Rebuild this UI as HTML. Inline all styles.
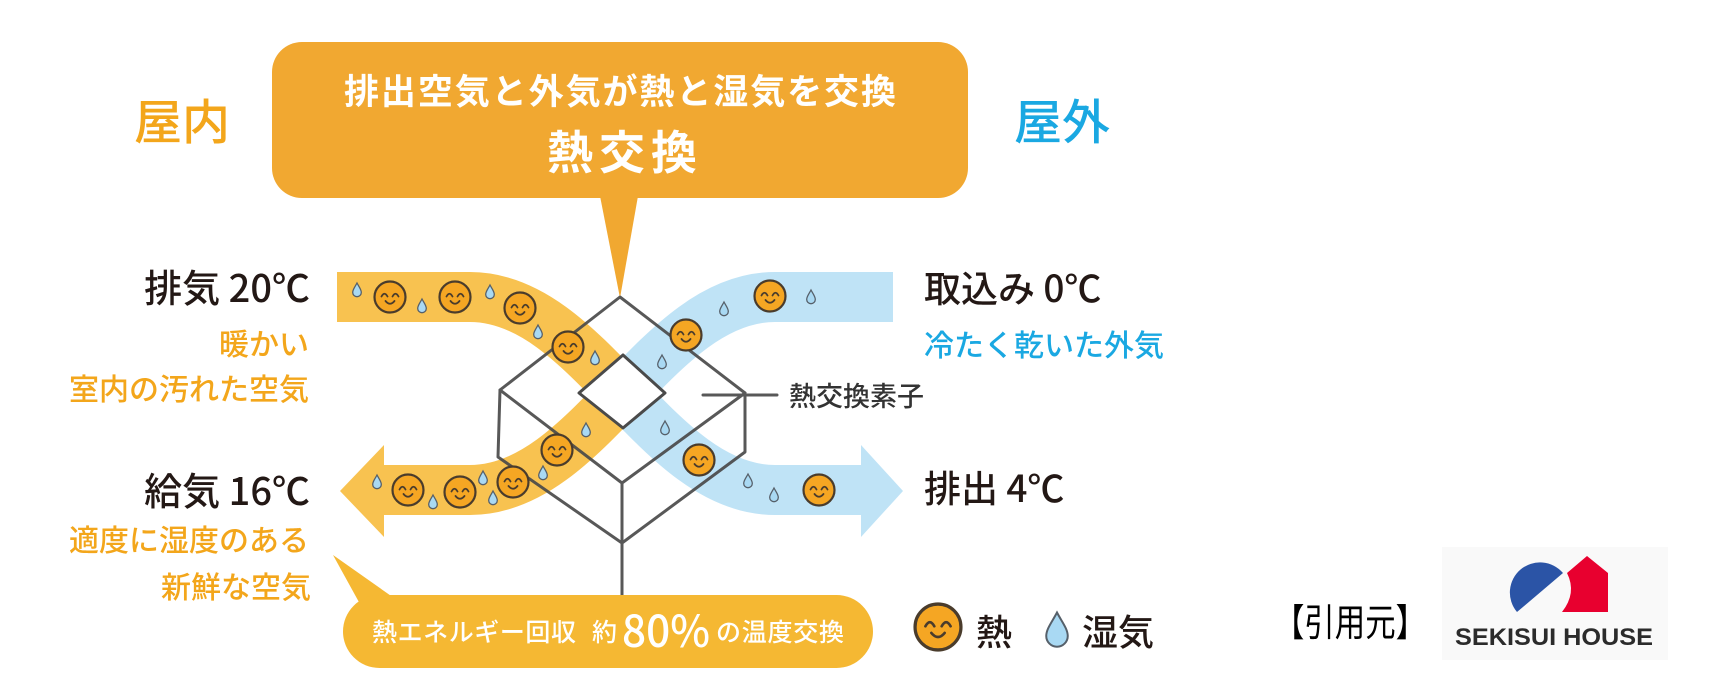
<!DOCTYPE html>
<html lang="ja">
<head>
<meta charset="utf-8">
<style>
  html, body { margin: 0; padding: 0; background: #ffffff; }
  body { width: 1724px; height: 700px; overflow: hidden; }
  svg { display: block; }
  text { font-family: "Liberation Sans", "Noto Sans CJK JP", sans-serif; }
  text.jp { font-family: "Noto Sans CJK JP", "Liberation Sans", sans-serif; }
</style>
</head>
<body>
<svg width="1724" height="700" viewBox="0 0 1724 700" xmlns="http://www.w3.org/2000/svg">
  <defs>
    <clipPath id="cl"><rect x="0" y="0" width="622.5" height="700"/></clipPath>
    <clipPath id="cr"><rect x="622.5" y="0" width="1102" height="700"/></clipPath>
    <g id="face">
      <circle cx="0" cy="0" r="15.5" fill="#F5A623" stroke="#4a3c2c" stroke-width="2.2"/>
      <path d="M-8.5,-0.5 Q-5.5,-6 -2.5,-0.5" fill="none" stroke="#4a3c2c" stroke-width="1.8" stroke-linecap="round"/>
      <path d="M2.5,-0.5 Q5.5,-6 8.5,-0.5" fill="none" stroke="#4a3c2c" stroke-width="1.8" stroke-linecap="round"/>
      <path d="M-4.5,4 Q0,9.5 4.5,4" fill="none" stroke="#4a3c2c" stroke-width="1.8" stroke-linecap="round"/>
    </g>
    <g id="drop">
      <path d="M0,-7 C1.8,-3.5 4.3,-0.5 4.3,2.4 A4.3,4.3 0 0 1 -4.3,2.4 C-4.3,-0.5 -1.8,-3.5 0,-7 Z" fill="#A9D9F3" stroke="#56606a" stroke-width="1.3"/>
    </g>
  </defs>

  <!-- Top speech bubble -->
  <rect x="272" y="42" width="696" height="156" rx="30" ry="30" fill="#F1A831"/>
  <polygon points="600,196 638,196 620,298" fill="#F1A831"/>
  <text class="jp" x="344" y="104" font-size="35" font-weight="600" fill="#ffffff" textLength="552" lengthAdjust="spacing">排出空気と外気が熱と湿気を交換</text>
  <text class="jp" x="547" y="169" font-size="46" font-weight="600" fill="#ffffff" textLength="150" lengthAdjust="spacing">熱交換</text>

  <!-- 屋内 / 屋外 -->
  <text class="jp" x="134" y="139" font-size="48" font-weight="500" fill="#F3A61B">屋内</text>
  <text class="jp" x="1014" y="139" font-size="48" font-weight="500" fill="#1AA8E2">屋外</text>

  <!-- Bands: orange part (left) -->
  <g clip-path="url(#cl)" fill="none" stroke="#F8C250" stroke-width="50">
    <path d="M337,297 L470,297 C590,297 655,490 775,490 L864,490"/>
    <path d="M893,297 L775,297 C655,297 590,490 470,490 L381,490"/>
  </g>
  <polygon points="384,445 340,491 384,537" fill="#F8C250"/>
  <!-- Bands: blue part (right) -->
  <g clip-path="url(#cr)" fill="none" stroke="#BFE3F6" stroke-width="50">
    <path d="M337,297 L470,297 C590,297 655,490 775,490 L864,490"/>
    <path d="M893,297 L775,297 C655,297 590,490 470,490 L381,490"/>
  </g>
  <polygon points="861,445 903,491 861,537" fill="#BFE3F6"/>

  <!-- Heat exchanger cube -->
  <g fill="none" stroke="#4a4a4a" stroke-width="3" stroke-linejoin="round" stroke-linecap="round" opacity="0.92">
    <polygon points="620,297 745,393 622,483 500,390"/>
    <polyline points="500,390 498,457 622,543 745,452 745,393"/>
    <line x1="622" y1="483" x2="622" y2="596"/>
    <line x1="703" y1="395" x2="777" y2="395"/>
  </g>
  <polygon points="623,355 665,393 623,428 579,393" fill="#ffffff" stroke="#4a4a4a" stroke-width="3" stroke-linejoin="round"/>

  <!-- faces & drops: upper orange -->
  <use href="#drop" x="357" y="290"/>
  <use href="#face" x="390" y="297"/>
  <use href="#drop" x="422" y="306"/>
  <use href="#face" x="455" y="297"/>
  <use href="#drop" x="490" y="292"/>
  <use href="#face" x="520" y="308"/>
  <use href="#drop" x="538" y="332"/>
  <use href="#face" x="568" y="347"/>
  <use href="#drop" x="595" y="358"/>
  <!-- lower orange -->
  <use href="#drop" x="377" y="482"/>
  <use href="#face" x="408" y="490"/>
  <use href="#drop" x="433" y="502"/>
  <use href="#face" x="460" y="492"/>
  <use href="#drop" x="483" y="478"/>
  <use href="#drop" x="493" y="498"/>
  <use href="#face" x="513" y="482"/>
  <use href="#drop" x="543" y="473"/>
  <use href="#face" x="557" y="450"/>
  <use href="#drop" x="586" y="430"/>
  <!-- upper blue -->
  <use href="#drop" x="811" y="297"/>
  <use href="#face" x="770" y="296"/>
  <use href="#drop" x="724" y="309"/>
  <use href="#face" x="686" y="335"/>
  <use href="#drop" x="662" y="362"/>
  <!-- lower blue -->
  <use href="#drop" x="665" y="428"/>
  <use href="#face" x="699" y="460"/>
  <use href="#drop" x="748" y="481"/>
  <use href="#drop" x="774" y="495"/>
  <use href="#face" x="819" y="490"/>

  <!-- Left labels -->
  <text class="jp" x="310" y="302" font-size="38" font-weight="500" fill="#231815" text-anchor="end">排気 20℃</text>
  <text class="jp" x="309" y="355" font-size="30" font-weight="500" fill="#F3A61B" text-anchor="end">暖かい</text>
  <text class="jp" x="309" y="400" font-size="30" font-weight="500" fill="#F3A61B" text-anchor="end">室内の汚れた空気</text>
  <text class="jp" x="310" y="505" font-size="38" font-weight="500" fill="#231815" text-anchor="end">給気 16℃</text>
  <text class="jp" x="309" y="551" font-size="30" font-weight="500" fill="#F3A61B" text-anchor="end">適度に湿度のある</text>
  <text class="jp" x="311" y="598" font-size="30" font-weight="500" fill="#F3A61B" text-anchor="end">新鮮な空気</text>

  <!-- Right labels -->
  <text class="jp" x="924" y="302" font-size="37" font-weight="500" fill="#231815">取込み 0℃</text>
  <text class="jp" x="924" y="356" font-size="30" font-weight="500" fill="#1AA8E2">冷たく乾いた外気</text>
  <text class="jp" x="789" y="406" font-size="27" font-weight="500" fill="#333333">熱交換素子</text>
  <text class="jp" x="924" y="502" font-size="37" font-weight="500" fill="#231815">排出 4℃</text>

  <!-- Bottom bubble -->
  <polygon points="333,555 394,598 360,604" fill="#F5B833"/>
  <rect x="343" y="595" width="530" height="73" rx="36.5" ry="36.5" fill="#F5B833"/>
  <text class="jp" x="372" y="641" font-size="25" font-weight="500" fill="#ffffff" textLength="204" lengthAdjust="spacing">熱エネルギー回収</text>
  <text class="jp" x="592" y="641" font-size="25" font-weight="500" fill="#ffffff">約</text>
  <text class="jp" x="622" y="647" font-size="44" font-weight="500" fill="#ffffff" textLength="88" lengthAdjust="spacingAndGlyphs">80%</text>
  <text class="jp" x="716" y="641" font-size="25" font-weight="500" fill="#ffffff" textLength="128" lengthAdjust="spacing">の温度交換</text>

  <!-- Legend -->
  <g transform="translate(938,627) scale(1.48)"><use href="#face"/></g>
  <text class="jp" x="976" y="645" font-size="36" font-weight="500" fill="#231815">熱</text>
  <g transform="translate(1057,630) scale(2.5)">
    <path d="M0,-7 C1.8,-3.5 4.3,-0.5 4.3,2.4 A4.3,4.3 0 0 1 -4.3,2.4 C-4.3,-0.5 -1.8,-3.5 0,-7 Z" fill="#A9D9F3" stroke="#56606a" stroke-width="0.8"/>
  </g>
  <text class="jp" x="1082" y="645" font-size="36" font-weight="500" fill="#231815">湿気</text>

  <!-- Citation -->
  <text class="jp" x="1274" y="636" font-size="38" fill="#000000" textLength="152" lengthAdjust="spacingAndGlyphs">【引用元】</text>

  <!-- Sekisui House logo -->
  <rect x="1442" y="547" width="226" height="113" fill="#F9F9F9"/>
  <path d="M1517,612 A30,30 0 0 1 1563,573 Z" fill="#2B54A6"/>
  <path d="M1567,573 L1587,556 L1608,573 L1608,612 L1562,612 Q1577,593 1567,573 Z" fill="#E8002F"/>
  <text x="1455" y="645" font-size="24" font-weight="bold" fill="#2b2b2b" textLength="198" lengthAdjust="spacingAndGlyphs">SEKISUI HOUSE</text>
</svg>
</body>
</html>
